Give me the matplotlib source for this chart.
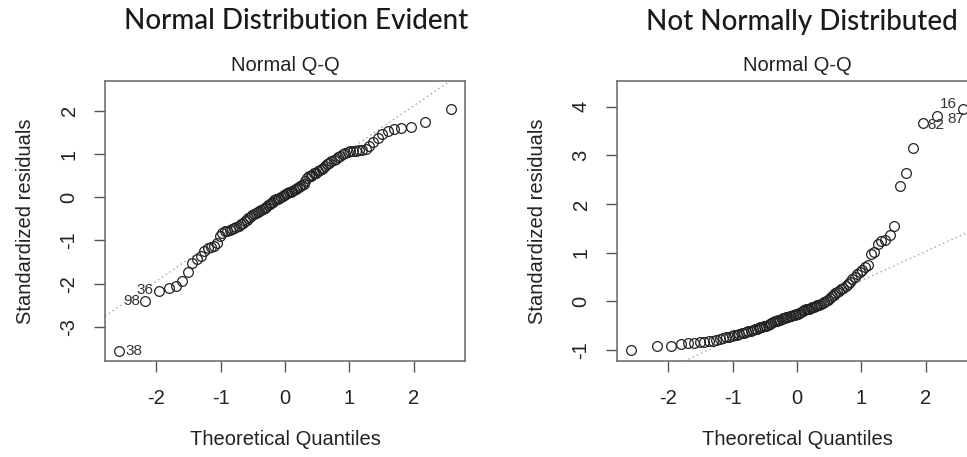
import matplotlib
matplotlib.use('Agg')
import matplotlib.pyplot as plt
import numpy as np
from statistics import NormalDist

# sorted standardized residuals (n = 100 each)
resid_normal = [
    -3.56, -2.40, -2.18, -2.10, -2.05, -1.95, -1.73, -1.52, -1.42, -1.35,
    -1.25, -1.18, -1.15, -1.12, -1.05, -0.90, -0.83, -0.79, -0.77, -0.75,
    -0.74, -0.72, -0.70, -0.66, -0.62, -0.59, -0.56, -0.52, -0.48, -0.45,
    -0.42, -0.39, -0.37, -0.34, -0.31, -0.29, -0.27, -0.24, -0.22, -0.19,
    -0.16, -0.13, -0.10, -0.07, -0.05, -0.03, -0.01, 0.01, 0.03, 0.05,
    0.07, 0.09, 0.11, 0.13, 0.15, 0.17, 0.19, 0.21, 0.24, 0.26,
    0.28, 0.30, 0.38, 0.45, 0.48, 0.50, 0.52, 0.55, 0.57, 0.60,
    0.62, 0.65, 0.68, 0.72, 0.76, 0.80, 0.83, 0.86, 0.89, 0.92,
    0.95, 0.99, 1.02, 1.04, 1.06, 1.07, 1.08, 1.09, 1.10, 1.12,
    1.18, 1.28, 1.38, 1.46, 1.53, 1.57, 1.60, 1.63, 1.75, 2.04,
]
resid_skewed = [
    -1.00, -0.93, -0.92, -0.89, -0.86, -0.85, -0.84, -0.83, -0.82, -0.81,
    -0.79, -0.77, -0.76, -0.74, -0.73, -0.72, -0.70, -0.69, -0.68, -0.66,
    -0.65, -0.64, -0.62, -0.61, -0.59, -0.58, -0.57, -0.56, -0.54, -0.53,
    -0.52, -0.50, -0.48, -0.46, -0.44, -0.42, -0.41, -0.40, -0.39, -0.38,
    -0.37, -0.35, -0.34, -0.33, -0.32, -0.31, -0.30, -0.29, -0.28, -0.27,
    -0.26, -0.24, -0.22, -0.20, -0.18, -0.17, -0.16, -0.15, -0.14, -0.12,
    -0.11, -0.10, -0.08, -0.07, -0.05, -0.04, -0.02, 0.00, 0.03, 0.06,
    0.10, 0.13, 0.16, 0.19, 0.22, 0.25, 0.28, 0.32, 0.36, 0.40,
    0.45, 0.50, 0.55, 0.60, 0.65, 0.70, 0.74, 0.98, 1.02, 1.18,
    1.24, 1.26, 1.36, 1.55, 2.37, 2.63, 3.15, 3.66, 3.80, 3.95,
]

# labelled observations: rank in sorted order -> observation id
ids_normal = {0: '38', 1: '98', 2: '36'}
ids_skewed = {97: '82', 98: '87', 99: '16'}

titles = ['Normal Distribution Evident', 'Not Normally Distributed']
yticks_normal = [-3, -2, -1, 0, 1, 2]
yticks_skewed = [-1, 0, 1, 2, 3, 4]
xticks = [-2, -1, 0, 1, 2]

plt.rcParams['font.family'] = 'Liberation Sans'


def theo_quantiles(n):
    nd = NormalDist()
    return np.array([nd.inv_cdf((i - 0.5) / n) for i in range(1, n + 1)])


def qq_panel(ax, resid, ids, yticks, ylim, label_pos):
    y = np.array(resid)
    x = theo_quantiles(len(y))
    ax.plot(x, y, 'o', ms=7, mfc='none', mec='#222222', mew=0.9)

    # qqline through the quartiles
    y1, y2 = np.percentile(y, [25, 75])
    x1, x2 = NormalDist().inv_cdf(0.25), NormalDist().inv_cdf(0.75)
    slope = (y2 - y1) / (x2 - x1)
    ax.axline((x1, y1), slope=slope, color='#b0b0b0', ls=(0, (1, 2)), lw=1.1, zorder=0)

    for k, lab in ids.items():
        side, dx, dy = label_pos[k]
        ax.annotate(lab, (x[k], y[k]), xytext=(dx, dy), textcoords='offset points',
                    ha=side, va='center', fontsize=11, color='#333333')

    ax.set_xlim(-2.8, 2.8)
    ax.set_ylim(*ylim)
    ax.set_xticks(xticks)
    ax.set_xticklabels([str(t) for t in xticks])
    ax.set_yticks(yticks)
    ax.set_yticklabels([str(t) for t in yticks], rotation=90, va='center')
    ax.tick_params(direction='out', length=8, width=1, colors='#555555',
                   labelcolor='#222222', labelsize=14.5)
    ax.tick_params(axis='x', pad=12)
    ax.tick_params(axis='y', pad=11)
    for s in ax.spines.values():
        s.set_color('#666666')
        s.set_linewidth(1.1)

    ax.set_xlabel('Theoretical Quantiles', fontsize=14.5, color='#222222', va='center')
    ax.xaxis.set_label_coords(0.5, -0.282)
    ax.set_ylabel('Standardized residuals', fontsize=14.5, color='#222222', va='center')
    ax.yaxis.set_label_coords(-0.222, 0.5)
    ax.text(0.5, 1.057, 'Normal Q-Q', transform=ax.transAxes, ha='center', va='center',
            fontsize=14.5, color='#222222')


fig = plt.figure(figsize=(9.67, 4.57), dpi=100)
ax1 = fig.add_axes([105 / 967, 96 / 457, 360 / 967, 280 / 457])
ax2 = fig.add_axes([617 / 967, 96 / 457, 360 / 967, 280 / 457])

qq_panel(ax1, resid_normal, ids_normal, yticks_normal, (-3.79, 2.69),
         {0: ('left', 4, 0), 1: ('right', -4, 0), 2: ('right', -4, 1)})
qq_panel(ax2, resid_skewed, ids_skewed, yticks_skewed, (-1.23, 4.53),
         {97: ('left', 3, -1), 98: ('left', 8, -2), 99: ('right', -4, 4)})

fig.text(296 / 967, 1 - 21 / 457, titles[0], ha='center', va='center',
         fontsize=20, family='Lato', weight='medium', color='#1a1a1a')
fig.text(802 / 967, 1 - 22 / 457, titles[1], ha='center', va='center',
         fontsize=20, family='Lato', weight='medium', color='#1a1a1a')

fig.savefig('out.png', dpi=100, facecolor='white')
